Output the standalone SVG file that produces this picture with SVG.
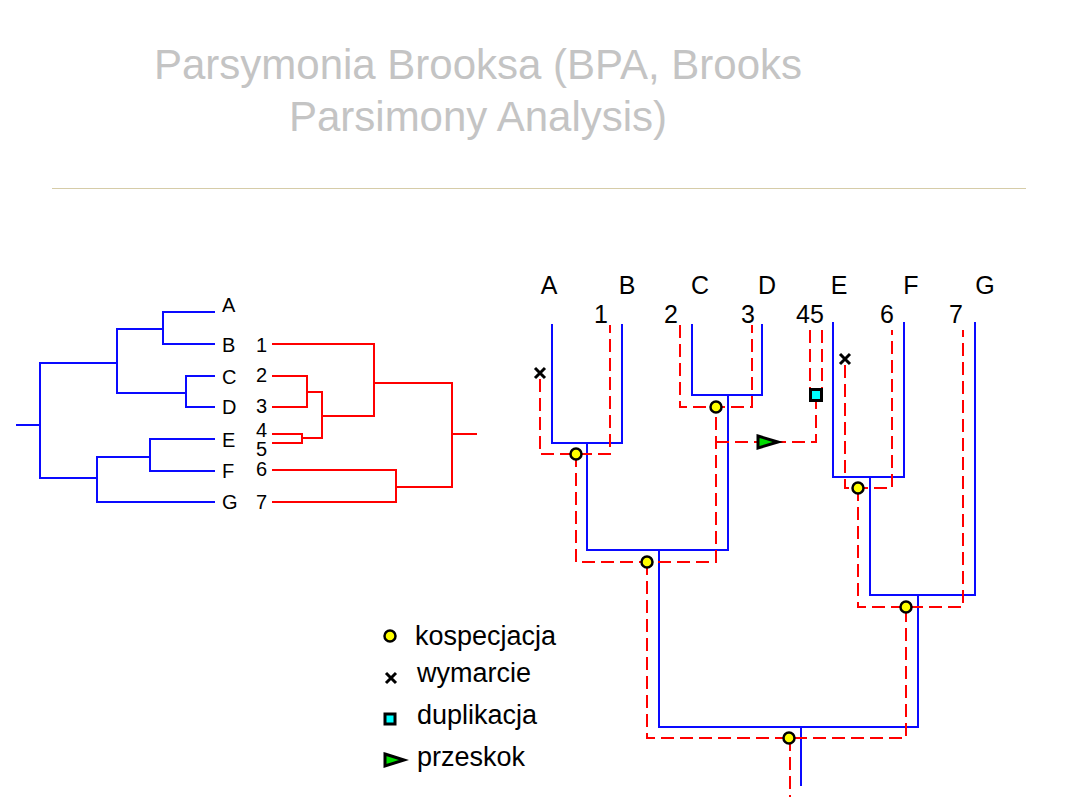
<svg xmlns="http://www.w3.org/2000/svg" width="1080" height="810" viewBox="0 0 1080 810">
<style>
.t{font-family:"Liberation Sans",Arial,sans-serif;fill:#000}
.title{font-family:"Liberation Sans",Arial,sans-serif;fill:#c4c4c4;font-size:42px;text-anchor:middle}
.host{fill:none;stroke:#0a0aff;stroke-width:2;stroke-linejoin:miter;stroke-linecap:square}
.para{fill:none;stroke:#ff0000;stroke-width:2;stroke-linejoin:miter;stroke-linecap:square}
.dash{fill:none;stroke:#ff0000;stroke-width:2;stroke-dasharray:13 6}
.co{fill:#ffff00;stroke:#000;stroke-width:2.5}
.ex{stroke:#000;stroke-width:3;fill:none}
.dup{fill:#00ffff;stroke:#000;stroke-width:3}
.sw{fill:#00dd00;stroke:#000;stroke-width:3;stroke-linejoin:miter}
.sl{font-size:20px}
.sr{font-size:25px;text-anchor:middle}
.lg{font-size:27px}
</style>
<rect width="1080" height="810" fill="#fff"/>
<g id="title">
<text class="title" x="478" y="79">Parsymonia Brooksa (BPA, Brooks</text>
<text class="title" x="478" y="131">Parsimony Analysis)</text>
<line x1="52" y1="188.5" x2="1026" y2="188.5" stroke="#d6cca8" stroke-width="1"/>
</g>
<g id="host-tree-left">
<path class="host" d="M17,425 H40 M40,363 V478 M40,363 H117 M117,329 V393 M117,329 H163 M163,312 V344 M163,312 H214 M163,344 H214 M117,393 H186 M186,376 V407 M186,376 H214 M186,407 H214 M40,478 H97 M97,457 V502 M97,457 H150 M150,439 V471 M150,439 H214 M150,471 H214 M97,502 H214"/>
<g class="t sl">
<text x="222" y="312">A</text>
<text x="222" y="352">B</text>
<text x="222" y="384">C</text>
<text x="222" y="414">D</text>
<text x="222" y="447">E</text>
<text x="222" y="478">F</text>
<text x="222" y="509">G</text>
</g>
</g>
<g id="parasite-tree-left">
<path class="para" d="M273,344 H374 V416 M273,376 H307 V407 H273 M307,392 H322 V438 M273,434 H302 V443 H273 M302,438 H322 M322,416 H374 M374,383 H452 V487 M273,470 H396 V502 H273 M396,487 H452 M452,434 H476"/>
<g class="t sl">
<text x="256" y="352">1</text>
<text x="256" y="382">2</text>
<text x="256" y="413">3</text>
<text x="256" y="437">4</text>
<text x="256" y="456">5</text>
<text x="256" y="476">6</text>
<text x="256" y="509">7</text>
</g>
</g>
<g id="reconciliation">
<g id="host-labels" class="t sr">
<text x="549" y="294">A</text>
<text x="627" y="294">B</text>
<text x="700" y="294">C</text>
<text x="767" y="294">D</text>
<text x="839" y="294">E</text>
<text x="911" y="294">F</text>
<text x="985" y="294">G</text>
</g>
<g id="parasite-labels" class="t sr">
<text x="601" y="323">1</text>
<text x="671" y="323">2</text>
<text x="748" y="323">3</text>
<text x="810" y="323">45</text>
<text x="887" y="323">6</text>
<text x="956" y="323">7</text>
</g>
<g id="connectors">
<path class="host" d="M552,325 V443 H622 V325 M587,443 V550 M692,325 V395 H762 V325 M728,395 V550 M587,550 H728 M659,550 V727 M833,323 V477 H904 V323 M870,477 V595 M975,323 V595 H870 M918,595 V727 M659,727 H918 M801,727 V785"/>
<path class="dash" d="M540,379 V454 H610 V325"/>
<path class="dash" d="M576,454 V562 H716 V407"/>
<path class="dash" d="M680,325 V407 H752 V325"/>
<path class="dash" d="M716,442 H816 V402"/>
<path class="dash" d="M810,330 V389 M822,330 V389"/>
<path class="dash" d="M647,562 V738 H906 V607"/>
<path class="dash" d="M845,365 V488 H892 V330"/>
<path class="dash" d="M858,488 V607 H963 V330"/>
<path class="dash" d="M790,738 V797"/>
</g>
<g id="events">
<circle class="co" cx="576" cy="454" r="5.5"/>
<circle class="co" cx="716" cy="407" r="5.5"/>
<circle class="co" cx="647" cy="562" r="5.5"/>
<circle class="co" cx="858" cy="488" r="5.5"/>
<circle class="co" cx="906" cy="607" r="5.5"/>
<circle class="co" cx="789" cy="738" r="5.5"/>
<path class="ex" d="M535,368 L545,378 M545,368 L535,378"/>
<path class="ex" d="M840,354 L850,364 M850,354 L840,364"/>
<rect class="dup" x="810.5" y="389.5" width="11" height="11"/>
<polygon class="sw" points="758,436 778,442 758,448"/>
</g>
</g>
<g id="legend">
<circle class="co" cx="390" cy="636" r="5.5"/>
<text class="t lg" x="415" y="645">kospecjacja</text>
<path class="ex" d="M386,673 L396,683 M396,673 L386,683"/>
<text class="t lg" x="417" y="682">wymarcie</text>
<rect class="dup" x="385" y="714" width="10" height="10"/>
<text class="t lg" x="417" y="724">duplikacja</text>
<polygon class="sw" points="385,754 404,760 385,766"/>
<text class="t lg" x="417" y="766">przeskok</text>
</g>
</svg>
